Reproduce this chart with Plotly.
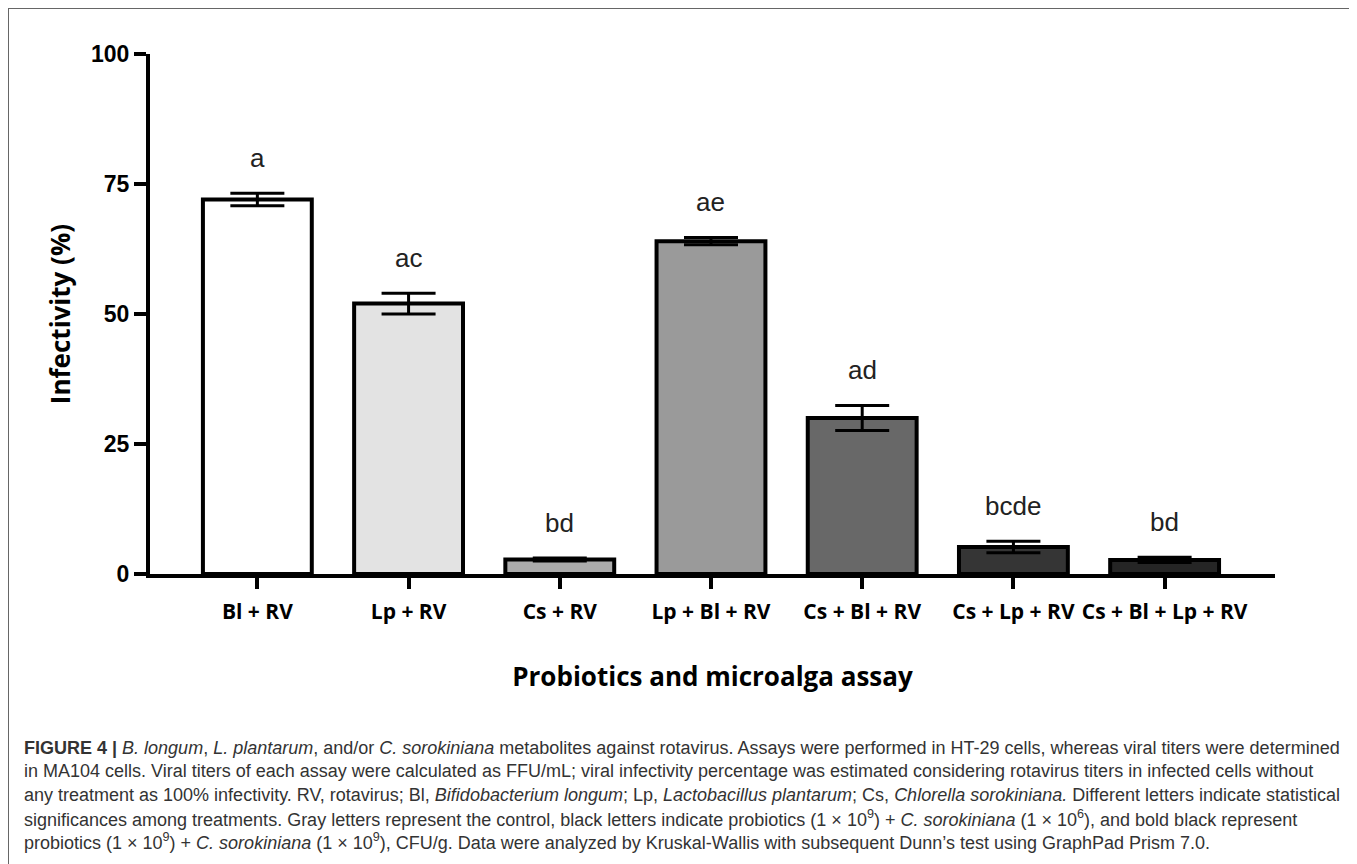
import plotly.graph_objects as go

# ---- data ----
categories = ["Bl + RV", "Lp + RV", "Cs + RV", "Lp + Bl + RV", "Cs + Bl + RV", "Cs + Lp + RV", "Cs + Bl + Lp + RV"]
infectivity = [72.0, 52.0, 2.8, 64.0, 30.0, 5.2, 2.7]
sem = [1.2, 2.0, 0.3, 0.7, 2.4, 1.1, 0.5]
letters = ["a", "ac", "bd", "ae", "ad", "bcde", "bd"]
bar_colors = ["#ffffff", "#e3e3e3", "#ababab", "#9a9a9a", "#686868", "#353535", "#252525"]
y_ticks = [0, 25, 50, 75, 100]

caption_lines = [
    "<b>FIGURE 4 |</b> <i>B. longum</i>, <i>L. plantarum</i>, and/or <i>C. sorokiniana</i> metabolites against rotavirus. Assays were performed in HT-29 cells, whereas viral titers were determined",
    "in MA104 cells. Viral titers of each assay were calculated as FFU/mL; viral infectivity percentage was estimated considering rotavirus titers in infected cells without",
    "any treatment as 100% infectivity. RV, rotavirus; Bl, <i>Bifidobacterium longum</i>; Lp, <i>Lactobacillus plantarum</i>; Cs, <i>Chlorella sorokiniana.</i> Different letters indicate statistical",
    "significances among treatments. Gray letters represent the control, black letters indicate probiotics (1 × 10<sup>9</sup>) + <i>C. sorokiniana</i> (1 × 10<sup>6</sup>), and bold black represent",
    "probiotics (1 × 10<sup>9</sup>) + <i>C. sorokiniana</i> (1 × 10<sup>9</sup>), CFU/g. Data were analyzed by Kruskal-Wallis with subsequent Dunn’s test using GraphPad Prism 7.0.",
]

# page offset of the plot div (default body margin)
OFF = 8
W, H = 1357 - OFF, 864 - OFF
# desired page-pixel positions of plot area
PL, PR, PT, PB = 150, 1275, 54, 574
ML, MT = PL - OFF, PT - OFF
MR, MB = W - (PR - OFF), H - (PB - OFF)
PW, PH = PR - PL, PB - PT


def px_x(px):
    return (px - PL) / PW


def px_y(py):
    return (PB - py) / PH


fig = go.Figure()
fig.add_trace(go.Bar(
    x=list(range(len(categories))),
    y=infectivity,
    width=0.72,
    marker=dict(color=bar_colors, line=dict(color="black", width=4)),
    error_y=dict(type="data", array=sem, visible=True, color="black", thickness=3, width=27),
    hoverinfo="skip",
))

for i, (v, e, t) in enumerate(zip(infectivity, sem, letters)):
    fig.add_annotation(x=i, y=v + e + 6.8, text=t, showarrow=False, xref="x", yref="y",
                       font=dict(family="Liberation Sans, Arial", size=26, color="#222222"),
                       yanchor="middle")

fig.update_xaxes(
    range=[-0.71, 6.73],
    tickmode="array", tickvals=list(range(len(categories))), ticktext=categories,
    showline=True, linecolor="black", linewidth=4,
    ticks="outside", ticklen=11, tickwidth=4, tickcolor="black",
    ticklabelstandoff=5,
    tickfont=dict(family="Open Sans", size=21, color="black", weight="bold"),
    showgrid=False, zeroline=False,
    title=dict(text="<b>Probiotics and microalga assay</b>", standoff=45,
               font=dict(family="Open Sans", size=26, color="black")),
)
fig.update_yaxes(
    range=[0, 100],
    tickmode="array", tickvals=y_ticks,
    showline=True, linecolor="black", linewidth=4,
    ticks="outside", ticklen=12, tickwidth=4, tickcolor="black",
    tickfont=dict(family="Liberation Sans, Arial", size=23, color="black", weight="bold"),
    showgrid=False, zeroline=False,
    title=dict(text="<b>Infectivity (%)</b>", standoff=14,
               font=dict(family="Open Sans", size=26, color="black")),
)

# caption
for k, line in enumerate(caption_lines):
    fig.add_annotation(x=px_x(22), y=px_y(748 + 23.4 * k), xref="paper", yref="paper",
                       text=line, showarrow=False, xanchor="left", yanchor="middle", align="left",
                       font=dict(family="Liberation Sans, Arial", size=18, color="#333333"))

# outer frame
fig.add_shape(type="rect", xref="paper", yref="paper",
              x0=px_x(8), x1=px_x(1355), y0=px_y(880), y1=px_y(8),
              line=dict(color="#666666", width=2), fillcolor="rgba(0,0,0,0)", layer="below")

fig.update_layout(
    width=W, height=H, autosize=False,
    margin=dict(l=ML, r=MR, t=MT, b=MB),
    paper_bgcolor="white", plot_bgcolor="white",
    showlegend=False, bargap=0.28,
)

fig.write_html("out.html")
